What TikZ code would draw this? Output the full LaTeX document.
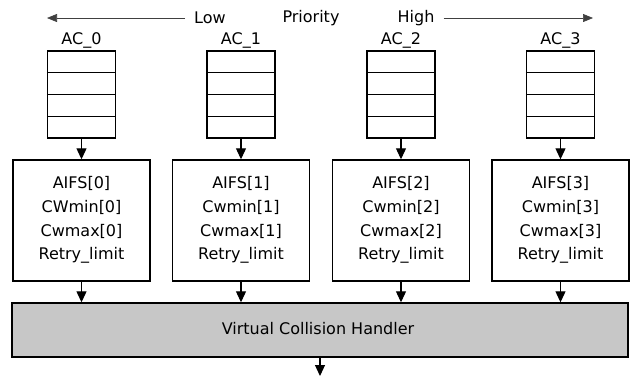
\documentclass[tikz,border=0pt]{standalone}
\usepackage{fontspec}
\setmainfont{DejaVu Sans}
\usetikzlibrary{arrows.meta,calc}
\begin{document}
\begin{tikzpicture}[x=1pt,y=-1pt,
  lbl/.style={font=\fontsize{16}{18}\selectfont, inner sep=0pt},
  queue/.style={draw=black, line width=1.4pt, fill=white, minimum width=68pt, minimum height=87pt, inner sep=0pt},
  parambox/.style={draw=black, line width=1.4pt, fill=white, minimum width=137pt, minimum height=121pt, inner sep=0pt},
  handler/.style={draw=black, line width=1.4pt, fill=black!22, minimum width=616pt, minimum height=54pt, inner sep=0pt},
  flow/.style={line width=1.1pt, -{Triangle[length=11pt,width=10pt]}},
  prio/.style={line width=0.7pt, draw=black!75, -{Triangle[length=10pt,width=8pt]}}
]
\useasboundingbox (0,0) rectangle (635,376);

% priority scale across the top
\node[lbl] (low) at (210,18) {Low};
\node[lbl] (priority) at (311,18) {Priority};
\node[lbl] (high) at (416,18) {High};
\coordinate (lowend) at (47,18);
\coordinate (highend) at (593,18);
\draw[prio] ([xshift=-9pt]low.west) -- (lowend);
\draw[prio] ([xshift=9pt]high.east) -- (highend);

% access-category queues and their parameter sets
\foreach \i/\cx in {0/81.5,1/241,2/401,3/560.5}{
  \node[lbl] (ac\i) at (\cx,40) {AC\_\i};
  \node[queue] (q\i) at (\cx,94.5) {};
  \foreach \f in {0.25,0.5,0.75}{
    \draw[line width=1.4pt] ($(q\i.north west)!\f!(q\i.south west)$) -- ($(q\i.north east)!\f!(q\i.south east)$);
  }
  \node[parambox] (p\i) at (\cx,220.5) {};
}
\foreach \i/\cw in {0/CWmin,1/Cwmin,2/Cwmin,3/Cwmin}{
  \node[lbl] (aifs\i) at ($(p\i.north)+(0,24)$) {AIFS[\i]};
  \node[lbl] (cwmin\i) at ($(p\i.north)+(0,48)$) {\cw[\i]};
  \node[lbl] (cwmax\i) at ($(p\i.north)+(0,72)$) {Cwmax[\i]};
  \node[lbl] (retry\i) at ($(p\i.north)+(0,96)$) {Retry\_limit};
}

% collision handler
\node[handler] (vch) at (320,330) {};
\node[lbl] (vchtext) at (318,329) {Virtual Collision Handler};
\coordinate (out) at (320,376);

\foreach \i in {0,1,2,3}{
  \draw[flow] (q\i.south) -- (p\i.north);
  \draw[flow] (p\i.south) -- (p\i.south |- vch.north);
}
\draw[flow] (vch.south -| out) -- (out);
\end{tikzpicture}
\end{document}
